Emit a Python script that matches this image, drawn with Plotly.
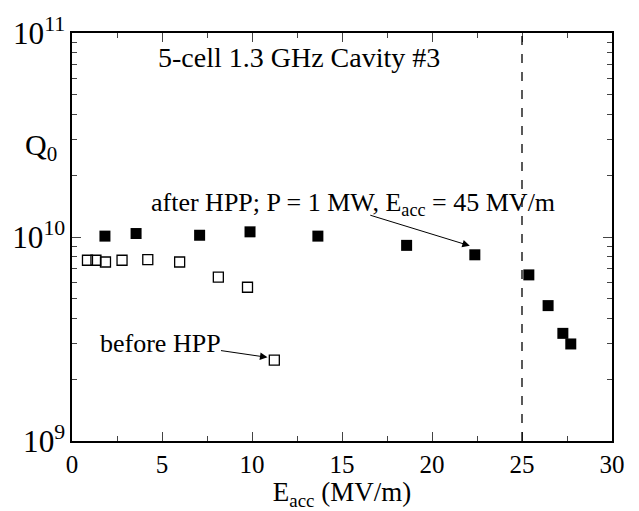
import plotly.graph_objects as go

# Data
after_x = [1.83, 3.56, 7.09, 9.89, 13.66, 18.59, 22.38, 25.38, 26.45, 27.27, 27.71]
after_q = [1.01e10, 1.04e10, 1.02e10, 1.06e10, 1.01e10, 9.1e9, 8.18e9, 6.52e9, 4.61e9, 3.37e9, 2.99e9]

before_x = [0.86, 1.33, 1.86, 2.78, 4.21, 5.98, 8.13, 9.75, 11.24]
before_q = [7.69e9, 7.69e9, 7.54e9, 7.69e9, 7.75e9, 7.54e9, 6.36e9, 5.67e9, 2.49e9]

x_ticks = [0, 5, 10, 15, 20, 25, 30]
limit_eacc = 25

FONT = "Liberation Serif, Times New Roman, serif"

fig = go.Figure()
fig.add_trace(go.Scatter(x=after_x, y=after_q, mode="markers",
                         marker=dict(symbol="square", size=11, color="black",
                                     line=dict(width=0)),
                         showlegend=False))
fig.add_trace(go.Scatter(x=before_x, y=before_q, mode="markers",
                         marker=dict(symbol="square-open", size=10, color="black",
                                     line=dict(width=1.3)),
                         showlegend=False))

fig.add_shape(type="line", x0=limit_eacc, x1=limit_eacc, y0=0, y1=1,
              xref="x", yref="paper",
              line=dict(color="black", width=1.3, dash="dash"))

fig.update_layout(
    width=639, height=511,
    margin=dict(l=65, r=27, t=26, b=65),
    paper_bgcolor="white", plot_bgcolor="white",
    font=dict(family=FONT, color="black", size=25),
    xaxis=dict(range=[0, 30], tickvals=x_ticks, ticks="inside", ticklen=9,
               tickwidth=1, showline=True, linecolor="black", linewidth=1.5,
               mirror="allticks", showgrid=False, zeroline=False,
               tickfont=dict(family=FONT, size=25),
               minor=dict(ticks="inside", ticklen=5, dtick=2.5, showgrid=False),
               title=dict(text="E<sub>acc</sub> (MV/m)", font=dict(family=FONT, size=27), standoff=2)),
    yaxis=dict(type="log", range=[9, 11], dtick=1, ticks="inside", ticklen=9,
               tickwidth=1, showline=True, linecolor="black", linewidth=1.5,
               mirror="allticks", showgrid=False, zeroline=False,
               exponentformat="power", showexponent="all",
               tickfont=dict(family=FONT, size=25),
               minor=dict(ticks="inside", ticklen=5, dtick="D1", showgrid=False)),
)

fig.add_annotation(text="5-cell 1.3 GHz Cavity #3", xref="paper", yref="paper",
                   x=0.155, y=0.94, showarrow=False, font=dict(family=FONT, size=28),
                   xanchor="left", yanchor="middle")
fig.add_annotation(text="Q<sub>0</sub>", xref="paper", yref="paper",
                   x=-0.058, y=0.72, showarrow=False, font=dict(family=FONT, size=30),
                   xanchor="center", yanchor="middle")
fig.add_annotation(text="after HPP; P = 1 MW, E<sub>acc</sub> = 45 MV/m",
                   xref="paper", yref="paper", x=0.1426, y=0.58,
                   showarrow=False, font=dict(family=FONT, size=26),
                   xanchor="left", yanchor="middle")
fig.add_annotation(text="before HPP", xref="paper", yref="paper",
                   x=0.049, y=0.238, showarrow=False, font=dict(family=FONT, size=26),
                   xanchor="left", yanchor="middle")
# arrows
fig.add_annotation(x=22.1, y=9.957, xref="x", yref="y", text="", showarrow=True,
                   ax=-101, ay=-31, arrowhead=2, arrowsize=1.5, arrowwidth=1,
                   arrowcolor="black")
fig.add_annotation(x=10.86, y=9.41, xref="x", yref="y", text="", showarrow=True,
                   ax=-48, ay=-7, arrowhead=2, arrowsize=1.5, arrowwidth=1,
                   arrowcolor="black")

fig.write_html("out.html")
